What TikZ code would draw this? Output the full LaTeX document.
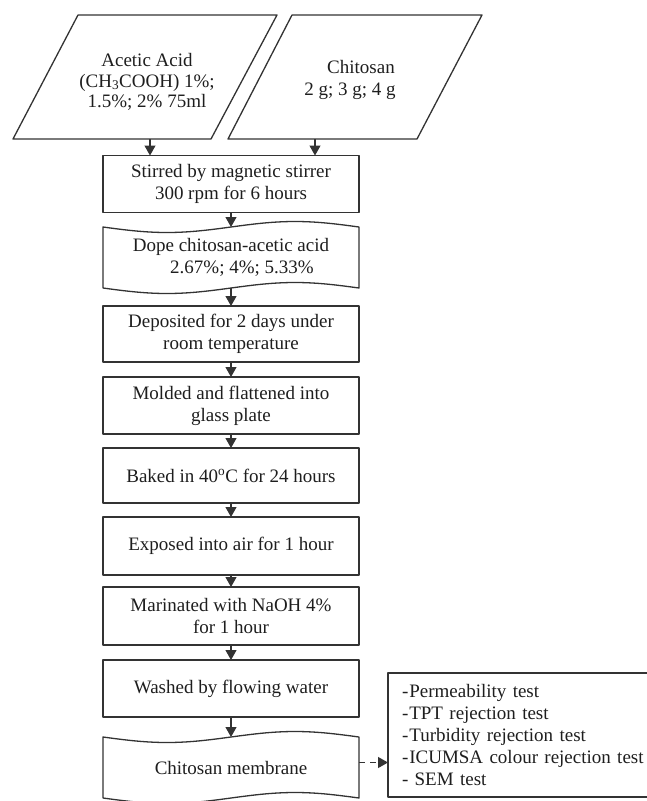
\documentclass[tikz,border=0pt]{standalone}
\usepackage{fontspec}
\setmainfont{Liberation Serif}
\usetikzlibrary{arrows.meta,calc}
\definecolor{lin}{HTML}{333333}
\definecolor{txt}{HTML}{1E1E1E}
\tikzset{
 every node/.style={font=\fontsize{19}{22}\selectfont, text=txt, inner sep=0pt, outer sep=0pt},
 ln/.style={draw=lin, line width=1.3pt, line join=round},
 box/.style={ln, rectangle, minimum width=256pt, minimum height=57pt, align=center},
 tape/.style={rectangle, minimum width=256pt, minimum height=61pt, align=center},
 arr/.style={draw=lin, line width=1.2pt, -{Triangle[length=10pt,width=11pt]}},
}
\newcommand\tapeshape[2]{%
 \draw[ln] (#1.north west) sin ($(#1.north west)+(64,#2)$) cos (#1.north)
   sin ($(#1.north)+(64,-#2)$) cos (#1.north east) -- (#1.south east)
   sin ($(#1.south east)+(-64,-#2)$) cos (#1.south)
   sin ($(#1.south)+(-64,#2)$) cos (#1.south west) -- cycle;}
\begin{document}
\begin{tikzpicture}[x=1pt,y=-1pt]
\useasboundingbox (0,0) rectangle (647,801);
\clip (0,0) rectangle (647,801);
% inputs
\draw[ln] (78,15) -- (277,15) -- (211,139) -- (13,139) -- cycle;
\draw[ln] (292,15) -- (482,15) -- (417,139) -- (228,139) -- cycle;
\node[align=center, font=\fontsize{19}{20.5}\selectfont] (acid) at (147,82) {Acetic Acid\\(CH\textsubscript{3}COOH) 1\%;\\1.5\%; 2\% 75ml};
\node[align=center] (chit) at (350,80) {\hspace*{22pt}Chitosan\\2 g; 3 g; 4 g};
\coordinate (p1s) at (150,139);
\coordinate (p2s) at (315,139);
% process
\node[box] (stir) at (231,184) {Stirred by magnetic stirrer\\300 rpm for 6 hours};
\node[tape] (dope) at (231,257.5) {Dope chitosan-acetic acid\\\hspace*{22pt}2.67\%; 4\%; 5.33\%};
\tapeshape{dope}{5.5}
\node[box, minimum height=56pt] (dep) at (231,334) {Deposited for 2 days under\\room temperature};
\node[box] (mold) at (231,405.5) {Molded and flattened into\\glass plate};
\node[box, minimum height=55pt] (bake) at (231,475.5) {Baked in 40\textsuperscript{o}C for 24 hours};
\node[box, minimum height=58pt] (expo) at (231,546) {Exposed into air for 1 hour};
\node[box, minimum height=58pt] (mar) at (231,616) {Marinated with NaOH 4\%\\for 1 hour};
\node[box] (wash) at (231,688.5) {Washed by flowing water};
\node[tape] (mem) at (231,767.5) {Chitosan membrane};
\tapeshape{mem}{5.5}
\node[ln, rectangle, minimum width=288pt, minimum height=124pt, text width=260pt,
  inner xsep=14pt, align=left, anchor=north west, font=\fontsize{19}{21.8}\selectfont] (tests) at (388,673)
  {-\kern1pt Permeability test\\-\kern1pt TPT rejection test\\-\kern1pt Turbidity rejection test\\-\kern1pt ICUMSA colour rejection test\\- SEM test};
% connectors
\draw[arr] (p1s) -- (p1s |- stir.north);
\draw[arr] (p2s) -- (p2s |- stir.north);
\draw[arr] (stir) -- (dope);
\draw[arr] (dope.south) -- (dep.north);
\draw[arr] (dep) -- (mold);
\draw[arr] (mold) -- (bake);
\draw[arr] (bake) -- (expo);
\draw[arr] (expo) -- (mar);
\draw[arr] (mar) -- (wash);
\draw[arr] (wash) -- (mem.north);
\coordinate (dsrc) at ($(mem.east)+(0,-5)$);
\draw[arr, dash pattern=on 6pt off 5pt] (dsrc) -- (dsrc -| tests.west);
\end{tikzpicture}
\end{document}
